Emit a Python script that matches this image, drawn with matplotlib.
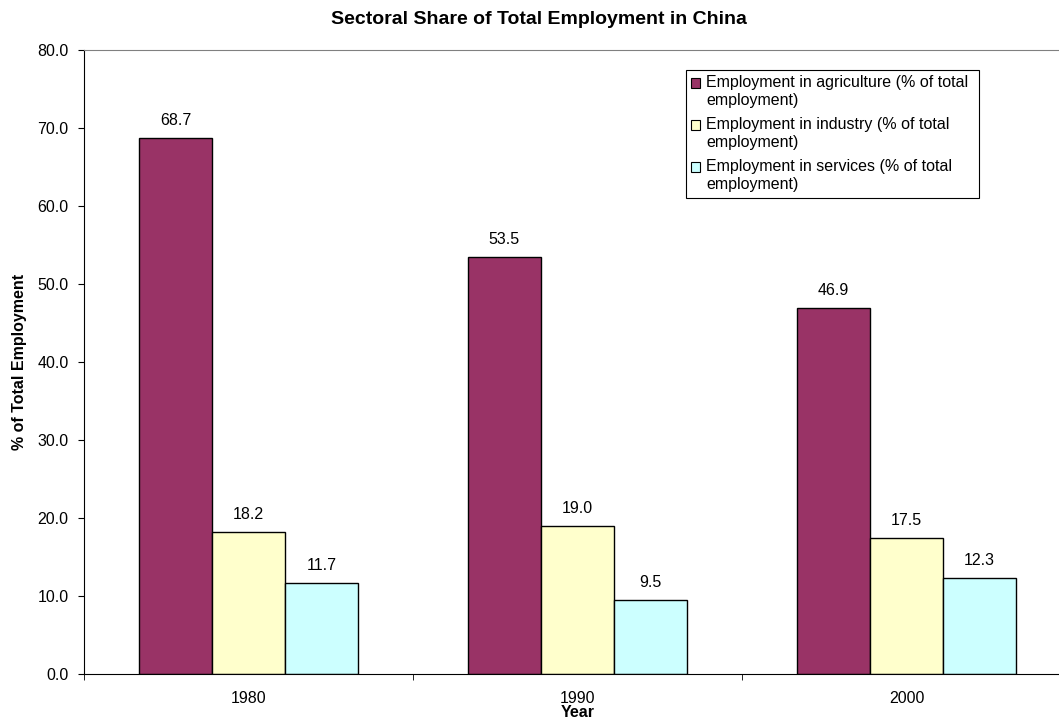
import numpy as np
import matplotlib.pyplot as plt
from matplotlib.patches import Rectangle

plt.rcParams['font.family'] = ['Liberation Sans', 'DejaVu Sans']

# data
years = ['1980', '1990', '2000']
agriculture = [68.7, 53.5, 46.9]
industry = [18.2, 19.0, 17.5]
services = [11.7, 9.5, 12.3]
series_names = ['Employment in agriculture (% of total\nemployment)',
                'Employment in industry (% of total\nemployment)',
                'Employment in services (% of total\nemployment)']
colors = ['#993366', '#FFFFCC', '#CCFFFF']

W, H = 1059, 719
fig = plt.figure(figsize=(W/100, H/100), dpi=100)
ax = fig.add_axes([84/W, 45/H, 987/W, 624/H])

def px(x, y):
    # pixel position from top-left -> figure fraction
    return x/W, 1 - y/H

fs = 11.5
x = np.arange(len(years))
width = 0.2222
for i, vals in enumerate([agriculture, industry, services]):
    pos = x + (i - 1) * width
    ax.bar(pos, vals, width, color=colors[i], edgecolor='black', linewidth=1.0)
    for p, v in zip(pos, vals):
        ax.annotate('%.1f' % v, (p, v), xytext=(0, 7), textcoords='offset points',
                    ha='center', va='bottom', fontsize=fs)

ax.set_xlim(-0.5, 2.5)
ax.set_ylim(0, 80)
ax.set_yticks(np.arange(0, 81, 10))
ax.set_yticklabels(['%.1f' % t for t in np.arange(0, 81, 10)], fontsize=fs)
ax.set_xticks(x)
ax.set_xticklabels(years, fontsize=fs)
ax.set_xticks([-0.5, 0.5, 1.5, 2.5], minor=True)
ax.tick_params(axis='x', which='major', length=0, pad=12)
ax.tick_params(axis='x', which='minor', length=4.5, direction='out')
ax.tick_params(axis='y', length=4.5, direction='out', pad=6.5)

ax.spines['right'].set_visible(False)
ax.spines['top'].set_color('#808080')

ax.set_xlabel('Year', fontsize=fs, fontweight='bold', labelpad=-0.5)
ax.set_ylabel('% of Total Employment', fontsize=fs, fontweight='bold', labelpad=7.5)
fig.text(*px(539, 19), 'Sectoral Share of Total Employment in China',
         ha='center', va='center', fontsize=14, fontweight='bold')

# legend box drawn by hand so the swatch sits on the first text line
x0, y0 = px(686, 198)
x1, y1 = px(979, 70)
fig.patches.append(Rectangle((x0, y0), x1 - x0, y1 - y0, transform=fig.transFigure,
                             facecolor='white', edgecolor='black', linewidth=0.8))
for i, name in enumerate(series_names):
    top = 83 + 42 * i
    sx, sy = px(691, top + 4.5)
    fig.patches.append(Rectangle((sx, sy), 9/W, 9/H, transform=fig.transFigure,
                                 facecolor=colors[i], edgecolor='black', linewidth=0.8))
    fig.text(*px(706, top - 8), name, ha='left', va='top', fontsize=fs,
             linespacing=1.25)

fig.savefig('out.png', dpi=100)
